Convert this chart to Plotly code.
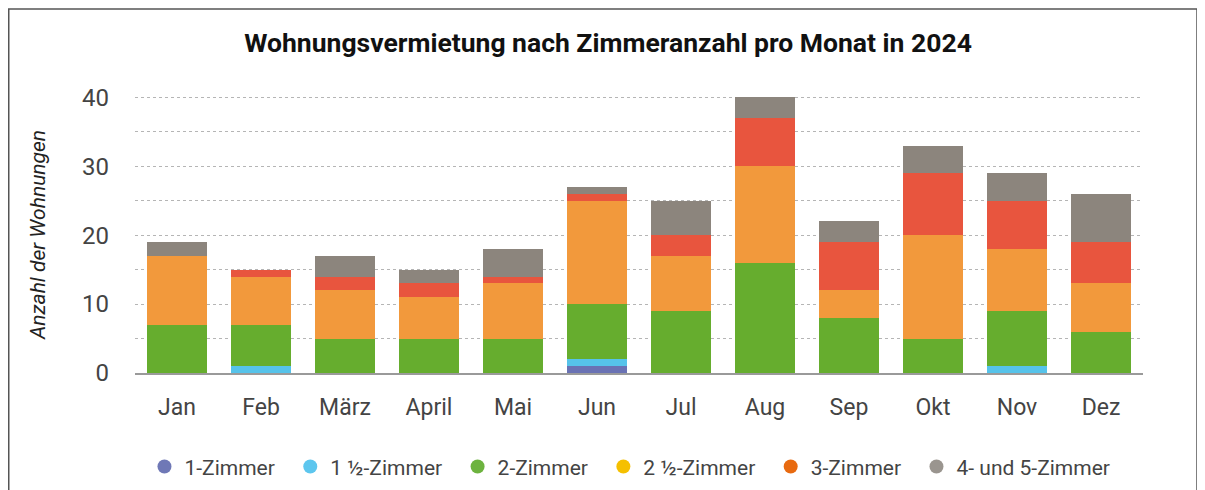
import plotly.graph_objects as go

# months and counts per room category
months = ['Jan', 'Feb', 'März', 'April', 'Mai', 'Jun', 'Jul', 'Aug', 'Sep', 'Okt', 'Nov', 'Dez']
zimmer_1 = [0, 0, 0, 0, 0, 1, 0, 0, 0, 0, 0, 0]
zimmer_1_5 = [0, 1, 0, 0, 0, 1, 0, 0, 0, 0, 1, 0]
zimmer_2 = [7, 6, 5, 5, 5, 8, 9, 16, 8, 5, 8, 6]
zimmer_2_5 = [10, 7, 7, 6, 8, 15, 8, 14, 4, 15, 9, 7]
zimmer_3 = [0, 1, 2, 2, 1, 1, 3, 7, 7, 9, 7, 6]
zimmer_4_5 = [2, 0, 3, 2, 4, 1, 5, 3, 3, 4, 4, 7]

names = ['1-Zimmer', '1 ½-Zimmer', '2-Zimmer', '2 ½-Zimmer', '3-Zimmer', '4- und 5-Zimmer']
series = [zimmer_1, zimmer_1_5, zimmer_2, zimmer_2_5, zimmer_3, zimmer_4_5]
bar_colors = ['#6a72b4', '#56c3ea', '#66ad2e', '#f2993c', '#e8553e', '#8c857d']
legend_colors = ['#6f78b6', '#5dc6ee', '#6db33f', '#f5c000', '#e86a10', '#9a958f']

fig = go.Figure()
for name, vals, col in zip(names, series, bar_colors):
    fig.add_trace(go.Bar(x=months, y=vals, name=name, marker_color=col,
                         marker_line_width=0, showlegend=False))

# legend entries use round markers, a little padding between items
for name, col in zip(names, legend_colors):
    fig.add_trace(go.Scatter(x=[None], y=[None], mode='markers', name=name + '\u00a0\u00a0',
                             marker=dict(color=col, size=14, symbol='circle')))

# page body has an 8px margin, so everything is placed 8px up/left
fig.update_layout(
    barmode='stack',
    bargap=0.28,
    width=1205, height=490,
    paper_bgcolor='white', plot_bgcolor='white',
    margin=dict(l=127, r=70, t=88, b=125, autoexpand=False),
    font=dict(family='Roboto', color='#444'),
    title=dict(text='<b>Wohnungsvermietung nach Zimmeranzahl pro Monat in 2024</b>',
               x=0.498, xref='container', xanchor='center', y=1 - 35 / 490, yanchor='middle',
               font=dict(size=26.5, color='#111', family='Roboto')),
    legend=dict(orientation='h', x=0.496, xanchor='center', y=-0.339, yanchor='middle',
                traceorder='normal',
                font=dict(size=21, color='#444', family='Roboto'),
                itemwidth=30, tracegroupgap=0),
    xaxis=dict(tickfont=dict(size=23, color='#444'), showgrid=False, automargin=False,
               showline=True, linecolor='#9a9a9a', linewidth=2, ticks='',
               ticklabelstandoff=12),
    yaxis=dict(range=[0, 40.2], tickvals=[0, 5, 10, 15, 20, 25, 30, 35, 40],
               ticktext=['0', '', '10', '', '20', '', '30', '', '40'], automargin=False,
               tickfont=dict(size=24, color='#444'), ticklabelstandoff=25,
               showgrid=True, gridcolor='#b5b5b5', griddash='dot', gridwidth=1,
               zeroline=False,
               title=dict(text='<i>Anzahl der Wohnungen</i>', standoff=30,
                          font=dict(size=21, color='#222'))),
    shapes=[dict(type='rect', xref='paper', yref='paper',
                 x0=(0.75 - 127) / 1008, x1=(1189 - 127) / 1008,
                 y0=-0.6, y1=(365 - 1) / 277,
                 line=dict(color='#555', width=1.5), fillcolor='rgba(0,0,0,0)')],
)

fig.write_html("out.html")
